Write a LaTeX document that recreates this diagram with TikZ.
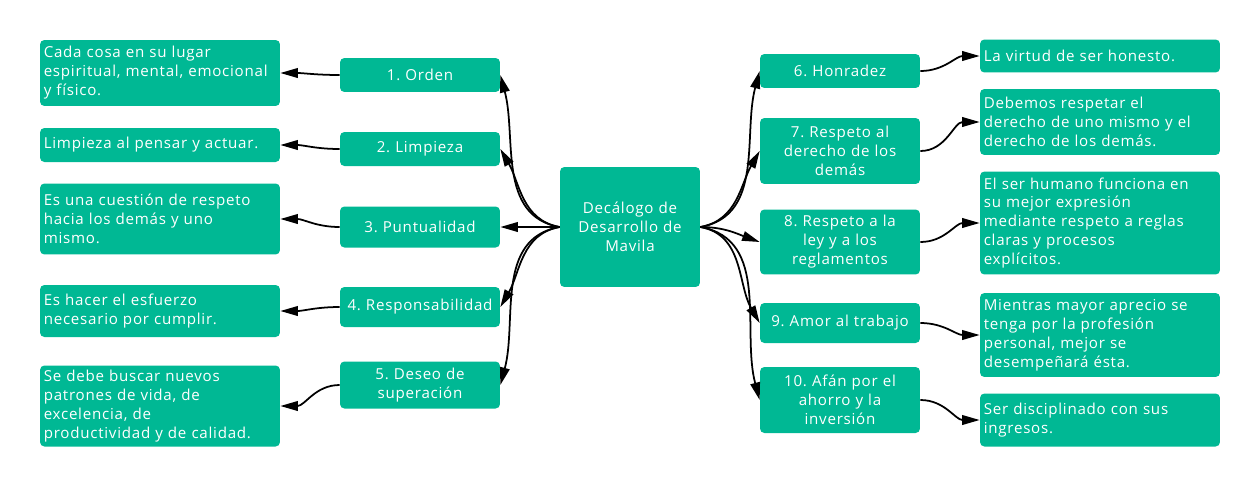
\documentclass[tikz,border=0pt]{standalone}
\usepackage{fontspec}
\setmainfont[LetterSpace=5]{Open Sans}
\usetikzlibrary{arrows.meta, positioning}
\definecolor{verde}{RGB}{0,184,148}

\begin{document}
\begin{tikzpicture}[x=0.02cm, y=-0.02cm,
  caja/.style={fill=verde, rounded corners=2.5pt, text=white, font=\fontsize{8.6}{10.8}\selectfont, inner sep=2pt},
  idea/.style={caja, minimum width=3.2cm, text width=3.05cm, align=center},
  nota/.style={caja, minimum width=4.8cm, text width=4.65cm, align=left},
  flecha/.style={-{Triangle[length=10pt,width=5.5pt]}, line width=1pt}]
\useasboundingbox (0,0) rectangle (1260,487);

% Nodo central
\node[caja, minimum width=2.8cm, minimum height=2.4cm, text width=2.6cm, align=center] (centro) at (630,227) {Decálogo de\\Desarrollo de\\Mavila};

% Valores 1 a 5 (izquierda)
\node[idea, minimum height=0.68cm] (v1) at (420,75) {1.\ Orden};
\node[idea, minimum height=0.68cm] (v2) at (420,149) {2.\ Limpieza};
\node[idea, minimum height=0.82cm] (v3) at (420,227) {3.\ Puntualidad};
\node[idea, minimum height=0.8cm] (v4) at (420,307) {4.\ Responsabilidad};
\node[idea, minimum height=0.94cm] (v5) at (420,385) {5.\ Deseo de\\superación};

% Explicaciones 1 a 5
\node[nota, minimum height=1.32cm] (n1) at (160,73) {Cada cosa en su lugar\\espiritual, mental, emocional\\y físico.};
\node[nota, minimum height=0.68cm] (n2) at (160,145) {Limpieza al pensar y actuar.};
\node[nota, minimum height=1.42cm] (n3) at (160,219) {Es una cuestión de respeto\\hacia los demás y uno\\mismo.};
\node[nota, minimum height=1.04cm] (n4) at (160,311) {Es hacer el esfuerzo\\necesario por cumplir.};
\node[nota, minimum height=1.62cm] (n5) at (160,406) {Se debe buscar nuevos\\patrones de vida, de\\excelencia, de\\productividad y de calidad.};

% Valores 6 a 10 (derecha)
\node[idea, minimum height=0.68cm] (v6) at (840,71) {6.\ Honradez};
\node[idea, minimum height=1.32cm] (v7) at (840,151) {7.\ Respeto al\\derecho de los\\demás};
\node[idea, minimum height=1.3cm] (v8) at (840,242) {8.\ Respeto a la\\ley y a los\\reglamentos};
\node[idea, minimum height=0.8cm] (v9) at (840,323) {9.\ Amor al trabajo};
\node[idea, minimum height=1.32cm] (v10) at (840,400) {10.\ Afán por el\\ahorro y la\\inversión};

% Explicaciones 6 a 10
\node[nota, minimum height=0.66cm] (n6) at (1100,56) {La virtud de ser honesto.};
\node[nota, minimum height=1.32cm] (n7) at (1100,122) {Debemos respetar el\\derecho de uno mismo y el\\derecho de los demás.};
\node[nota, minimum height=2.06cm] (n8) at (1100,223) {El ser humano funciona en\\su mejor expresión\\mediante respeto a reglas\\claras y procesos\\explícitos.};
\node[nota, minimum height=1.68cm] (n9) at (1100,335) {Mientras mayor aprecio se\\tenga por la profesión\\personal, mejor se\\desempeñará ésta.};
\node[nota, minimum height=1.06cm] (n10) at (1100,420) {Ser disciplinado con sus\\ingresos.};

% Flechas del centro a los valores
\draw[flecha] (centro.west) to[out=170, in=-75] (v1.east);
\draw[flecha] (centro.west) to[out=170, in=-60] (v2.east);
\draw[flecha] (centro.west) -- (v3.east);
\draw[flecha] (centro.west) to[out=190, in=60] (v4.east);
\draw[flecha] (centro.west) to[out=190, in=75] (v5.east);
\draw[flecha] (centro.east) to[out=10, in=-105] (v6.west);
\draw[flecha] (centro.east) to[out=10, in=-120] (v7.west);
\draw[flecha] (centro.east) to[out=0, in=160] (v8.west);
\draw[flecha] (centro.east) to[out=-10, in=120] (v9.west);
\draw[flecha] (centro.east) to[out=-10, in=105] (v10.west);

% Flechas de los valores a sus explicaciones
\draw[flecha] (v1.west) to[out=180, in=0] (n1.east);
\draw[flecha] (v2.west) to[out=180, in=0] (n2.east);
\draw[flecha] (v3.west) to[out=180, in=0] (n3.east);
\draw[flecha] (v4.west) to[out=180, in=0] (n4.east);
\draw[flecha] (v5.west) to[out=180, in=0] (n5.east);
\draw[flecha] (v6.east) to[out=0, in=180] (n6.west);
\draw[flecha] (v7.east) to[out=0, in=180] (n7.west);
\draw[flecha] (v8.east) to[out=0, in=180] (n8.west);
\draw[flecha] (v9.east) to[out=0, in=180] (n9.west);
\draw[flecha] (v10.east) to[out=0, in=180] (n10.west);
\end{tikzpicture}
\end{document}
